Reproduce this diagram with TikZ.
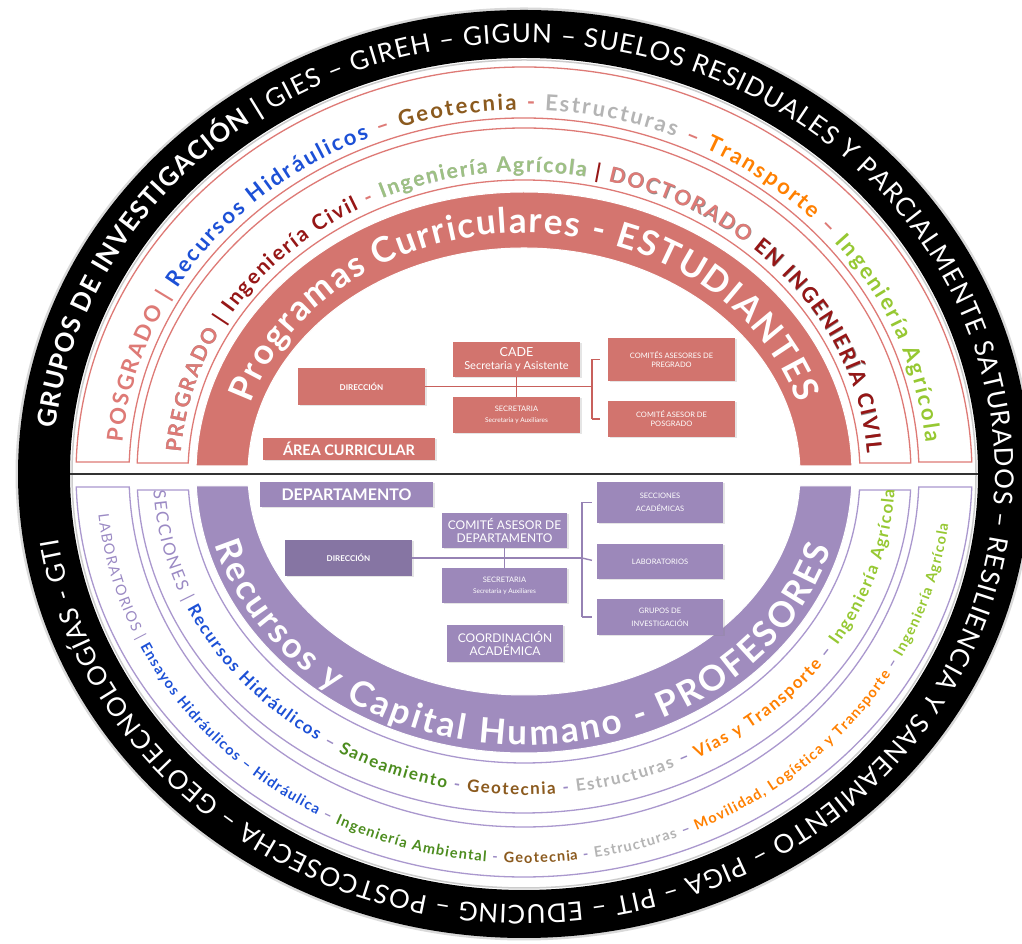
\documentclass[tikz,border=0pt]{standalone}
\usepackage{fontspec}
\setmainfont{Lato}
\usetikzlibrary{decorations.text,shadows,calc}
\definecolor{pinkband}{RGB}{212,117,111}
\definecolor{pinkline}{RGB}{222,122,118}
\definecolor{pinkbox}{RGB}{210,116,110}
\definecolor{purpband}{RGB}{160,140,190}
\definecolor{purpline}{RGB}{170,152,206}
\definecolor{purpbox}{RGB}{156,136,186}
\definecolor{purpdark}{RGB}{134,117,163}
\definecolor{tblue}{RGB}{28,80,214}
\definecolor{tbrown}{RGB}{139,90,30}
\definecolor{tgray}{RGB}{180,180,180}
\definecolor{torange}{RGB}{255,128,0}
\definecolor{tygreen}{RGB}{150,200,50}
\definecolor{tgreen}{RGB}{76,140,30}
\definecolor{tdred}{RGB}{150,22,22}
\definecolor{tpalegreen}{RGB}{157,193,131}
\definecolor{tlav}{RGB}{155,138,196}
\definecolor{tshadow}{RGB}{140,140,140}
\definecolor{connpink}{RGB}{200,96,92}
\definecolor{connpurp}{RGB}{150,130,180}
\definecolor{divline}{RGB}{50,50,50}

\newcommand{\fntR}{\fontsize{26}{26}\selectfont}
\newcommand{\fntA}{\fontsize{22}{22}\selectfont\bfseries}
\newcommand{\fntB}{\fontsize{21}{21}\selectfont\bfseries}
\newcommand{\fntC}{\fontsize{35}{35}\selectfont\bfseries}
\newcommand{\fntD}{\fontsize{17}{17}\selectfont\bfseries}
\newcommand{\fntE}{\fontsize{14.5}{15}\selectfont\bfseries}

\newcommand{\topband}[6]{%
  \pgfmathsetmacro{\bndAo}{asin(#6/#3)}%
  \pgfmathsetmacro{\bndAi}{asin(#6/#5)}%
  \draw[#1] ({524+#2*cos(\bndAo)},{470+#6}) arc[start angle=\bndAo, end angle={180-\bndAo}, x radius=#2, y radius=#3]
    -- ({524-#4*cos(\bndAi)},{470+#6}) arc[start angle={180-\bndAi}, end angle=\bndAi, x radius=#4, y radius=#5] -- cycle;}
\newcommand{\botband}[6]{%
  \pgfmathsetmacro{\bndAo}{asin(#6/#3)}%
  \pgfmathsetmacro{\bndAi}{asin(#6/#5)}%
  \draw[#1] ({524-#2*cos(\bndAo)},{470-#6}) arc[start angle={180+\bndAo}, end angle={360-\bndAo}, x radius=#2, y radius=#3]
    -- ({524+#4*cos(\bndAi)},{470-#6}) arc[start angle={360-\bndAi}, end angle={180+\bndAi}, x radius=#4, y radius=#5] -- cycle;}
\newcommand{\arctext}[6][0pt]{%
  \path[decorate, decoration={text along path, raise=#1, text format delimiters={<}{>}, text align={fit to path}, text={#6}}]
    ({524+#2*cos(#4)},{470+#3*sin(#4)}) arc[start angle=#4, end angle=#5, x radius=#2, y radius=#3];}

\tikzset{
  pbox/.style={fill=pinkbox, text=white, inner sep=0pt, align=center,
    drop shadow={opacity=0.2, shadow xshift=1.5pt, shadow yshift=-1.5pt}},
  ubox/.style={fill=purpbox, text=white, inner sep=0pt, align=center,
    drop shadow={opacity=0.2, shadow xshift=1.5pt, shadow yshift=-1.5pt}},
  pconn/.style={draw=connpink, line width=1.4pt},
  uconn/.style={draw=connpurp, line width=1.4pt},
  pout/.style={draw=pinkline, line width=1.3pt, fill=white},
  uout/.style={draw=purpline, line width=1.3pt, fill=white},
}

\begin{document}
\begin{tikzpicture}[x=1pt,y=1pt]
\clip (0,0) rectangle (1022,944);
\fill[white] (0,0) rectangle (1022,944);

% outer black ring
\draw[black!15, line width=3pt] (524,470) ellipse [x radius=507, y radius=465];
\fill[black, even odd rule] (524,470) ellipse [x radius=506, y radius=464] (524,470) ellipse [x radius=454, y radius=416];
\draw[black!20, line width=1.5pt] (524,470) ellipse [x radius=452, y radius=414];

% upper half bands
\topband{pout}{448}{407}{395}{356}{12}
\topband{pout}{387}{346}{336}{294}{11}
\topband{fill=pinkband, draw=white, line width=1pt}{328}{282}{276}{226}{8}
% lower half bands
\botband{uout}{448}{403}{395}{353}{13}
\botband{uout}{387}{339}{336}{289}{16}
\botband{fill=purpband, draw=white, line width=1pt}{328}{279}{276}{221}{12}

% divider
\draw[divline, line width=2.5pt] (70,470) -- (978,470);

% ring texts
\arctext{471}{431}{174}{-171.4}{<\fntR\bfseries\color{white}>GRUPOS DE INVESTIGACIÓN | <\fntR\mdseries\color{white}>GIES – GIREH – GIGUN – SUELOS RESIDUALES Y PARCIALMENTE SATURADOS – RESILIENCIA Y SANEAMIENTO – PIGA – PIT – EDUCING – POSTCOSECHA – GEOTECNOLOGÍAS - GTI}

\arctext{403}{364}{175}{5}{<\fntA\color{pinkline}>POSGRADO | <\fntA\color{tblue}>Recursos Hidráulicos <\fntA\color{pinkline}>– <\fntA\color{tbrown}>Geotecnia <\fntA\color{pinkline}>- <\fntA\color{tgray}>Estructuras <\fntA\color{pinkline}>– <\fntA\color{torange}>Transporte <\fntA\color{pinkline}>– <\fntA\color{tygreen}>Ingeniería Agrícola}

% shadow pass for the PREGRADO band
\arctext[-1.6pt]{345.5}{303.5}{176}{4}{<\fntB\color{tshadow}>PREGRADO <\fntB\color{white}>| Ingeniería Civil - <\fntB\color{tshadow!60}>Ingeniería Agrícola <\fntB\color{white}>| <\fntB\color{tshadow}>DOCTORADO EN INGENIERÍA CIVIL}
\arctext{344}{302}{176}{4}{<\fntB\color{pinkline}>PREGRADO <\fntB\color{tdred}>| Ingeniería Civil <\fntB\color{pinkline}>- <\fntB\color{tpalegreen}>Ingeniería Agrícola <\fntB\color{tdred}>| <\fntB\color{pinkline}>DOCTORADO <\fntB\color{tdred}>EN INGENIERÍA CIVIL}

\arctext{286}{241}{163}{17}{<\fntC\color{white}>Programas Curriculares - ESTUDIANTES}

\arctext{320}{271}{195}{344}{<\fntC\color{white}>Recursos y Capital Humano - PROFESORES}

\arctext{371}{321}{183}{357}{<\fntD\mdseries\color{tlav}>SECCIONES | <\fntD\color{tblue}>Recursos Hidráulicos <\fntD\color{tlav}>– <\fntD\color{tgreen}>Saneamiento <\fntD\color{tlav}>- <\fntD\color{tbrown}>Geotecnia <\fntD\color{tlav}>- <\fntD\color{tgray}>Estructuras <\fntD\color{tlav}>– <\fntD\color{torange}>Vías y Transporte <\fntD\color{tlav}>– <\fntD\color{tygreen}>Ingeniería Agrícola}

\arctext{428}{389}{186}{352.5}{<\fntE\mdseries\color{tlav}>LABORATORIOS | <\fntE\color{tblue}>Ensayos Hidráulicos – Hidráulica <\fntE\color{tlav}>– <\fntE\color{tgreen}>Ingeniería Ambiental <\fntE\color{tlav}>- <\fntE\color{tbrown}>Geotecnia <\fntE\color{tlav}>- <\fntE\color{tgray}>Estructuras <\fntE\color{tlav}>– <\fntE\color{torange}>Movilidad, Logística y Transporte <\fntE\color{tlav}>– <\fntE\color{tygreen}>Ingeniería Agrícola}

% upper org chart
\node[pbox, minimum width=127pt, minimum height=37pt, font=\bfseries\fontsize{8}{9}\selectfont] (dirT) at (361.5,557.5) {DIRECCIÓN};
\node[pbox, minimum width=127pt, minimum height=35pt, font=\fontsize{11}{13}\selectfont] (cadeT) at (516.5,584.5) {{\fontsize{12.5}{14}\selectfont CADE}\\Secretaria y Asistente};
\node[pbox, minimum width=127pt, minimum height=36pt, font=\fontsize{7.5}{11}\selectfont] (secT) at (516.5,529) {SECRETARIA\\{\fontsize{6.5}{8}\selectfont Secretaria y Auxiliares}};
\node[pbox, minimum width=127pt, minimum height=43pt, font=\fontsize{7.5}{9}\selectfont] (comPre) at (671.5,584.5) {COMITÉS ASESORES DE\\PREGRADO};
\node[pbox, minimum width=127pt, minimum height=36pt, font=\fontsize{7.5}{9}\selectfont] (comPos) at (671.5,525) {COMITÉ ASESOR DE\\POSGRADO};
\node[pbox, minimum width=172pt, minimum height=22pt, font=\bfseries\fontsize{14.5}{15}\selectfont] (areaC) at (349,495) {ÁREA CURRICULAR};

\coordinate (brT) at (592,557.5);
\coordinate (brTtop) at (592,584.5);
\coordinate (brTbot) at (592,525);
\draw[pconn] (dirT.east) -- (brT);
\draw[pconn] (brTtop) -- (brTbot);
\draw[pconn, shorten >=8pt] (brTtop) -- (comPre.west);
\draw[pconn, shorten >=8pt] (brTbot) -- (comPos.west);
\draw[pconn] (cadeT.south) -- (secT.north);

% lower org chart
\node[ubox, minimum width=173pt, minimum height=25pt, font=\bfseries\fontsize{16}{17}\selectfont] (depto) at (346.5,449.5) {DEPARTAMENTO};
\node[ubox, fill=purpdark, minimum width=127pt, minimum height=36pt, font=\bfseries\fontsize{8}{9}\selectfont] (dirB) at (348.5,386) {DIRECCIÓN};
\node[ubox, minimum width=125pt, minimum height=35pt, font=\fontsize{12}{13}\selectfont] (comDep) at (504.5,413.5) {COMITÉ ASESOR DE\\DEPARTAMENTO};
\node[ubox, minimum width=125pt, minimum height=35pt, font=\fontsize{7.5}{11}\selectfont] (secB) at (504.5,358.5) {SECRETARIA\\{\fontsize{6.5}{8}\selectfont Secretaria y Auxiliares}};
\node[ubox, minimum width=116pt, minimum height=37pt, font=\fontsize{12}{13}\selectfont] (coordA) at (505,300.5) {COORDINACIÓN\\ACADÉMICA};
\node[ubox, minimum width=126pt, minimum height=41pt, font=\fontsize{7.5}{13}\selectfont] (secAc) at (660,441.5) {SECCIONES\\ACADÉMICAS};
\node[ubox, minimum width=126pt, minimum height=35pt, font=\fontsize{7.5}{9}\selectfont] (labs) at (660,382.5) {LABORATORIOS};
\node[ubox, minimum width=126pt, minimum height=36pt, font=\fontsize{7.5}{13}\selectfont] (grupos) at (660,327) {GRUPOS DE\\INVESTIGACIÓN};

\coordinate (brB) at (582,386);
\coordinate (brBtop) at (582,441.5);
\coordinate (brBbot) at (582,327);
\draw[uconn] (dirB.east) -- (brB);
\draw[uconn] (brBtop) -- (brBbot);
\draw[uconn, shorten >=5pt] (brBtop) -- (secAc.west);
\draw[uconn, shorten >=5pt] (brB) -- (labs.west);
\draw[uconn, shorten >=5pt] (brBbot) -- (grupos.west);
\draw[uconn] (comDep.south) -- (secB.north);
\end{tikzpicture}
\end{document}
